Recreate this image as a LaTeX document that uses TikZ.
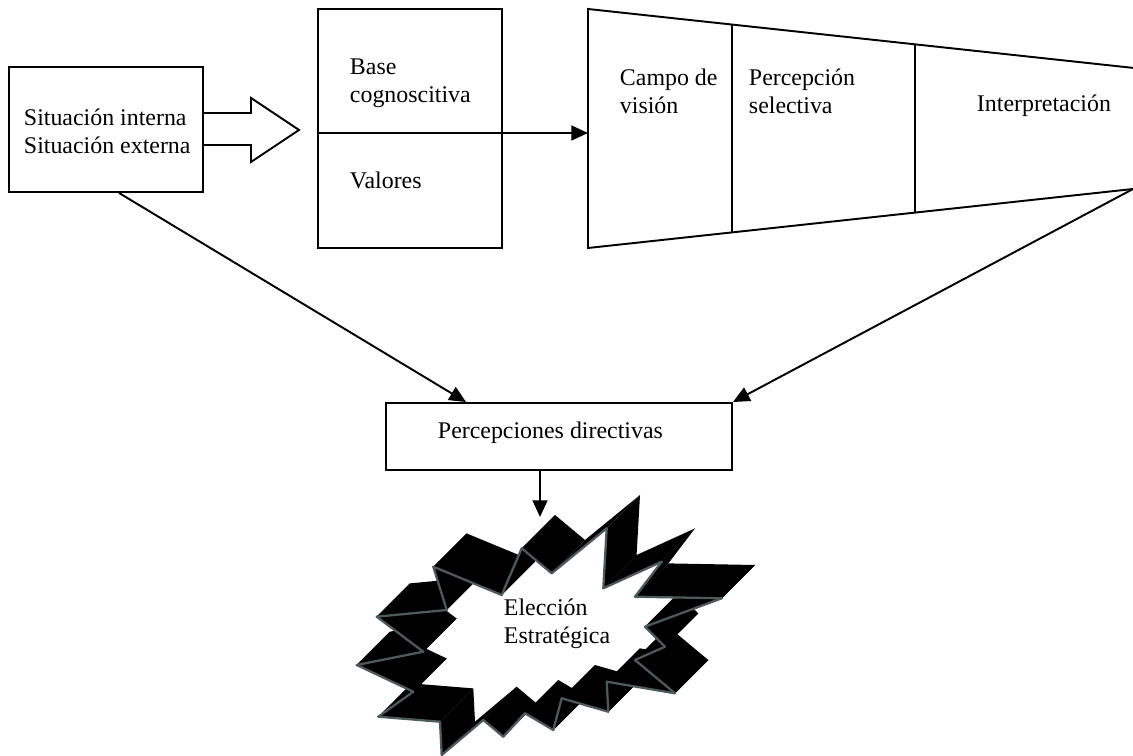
\documentclass[tikz,border=0pt]{standalone}
\usepackage{fontspec}
\setmainfont{Liberation Serif}
\usetikzlibrary{arrows.meta}
\definecolor{grisborde}{RGB}{78,90,90}
\tikzset{
  caja/.style={draw, line width=1.1pt, inner sep=0pt},
  texto/.style={anchor=west, inner sep=0pt, align=left, font=\fontsize{13.6}{16.2}\selectfont},
  flecha/.style={line width=1.1pt, -{Triangle[length=9.5pt,width=8.5pt]}},
  borde/.style={draw=grisborde, line width=1.3pt, line cap=round}
}
% puntos de la explosion (cara frontal)
\def\picos{356.7/665, 423.3/651.7, 376.7/616.7, 446.7/610, 433.3/566.7, 501.7/595,
  521.7/548.3, 551.7/573.3, 606.7/528.3, 603.3/588.3, 661.7/561.7, 635/596.7,
  721.7/598.3, 645/626.7, 665/646.7, 635/660, 675/693.3, 606.7/681.7, 608.3/711.7,
  561.7/698.3, 553.3/730, 525/713.3, 503.3/736.7, 483.3/720, 441.7/755, 440/721.7,
  378.3/716.7, 413.3/691.7}

\begin{document}
\begin{tikzpicture}[x=0.02cm,y=-0.02cm,line width=1.1pt]
\useasboundingbox (0,0) rectangle (1133,756);

\node[caja, minimum width=3.88cm, minimum height=2.5cm] (sit) at (106,129.5) {};
\node[caja, minimum width=3.68cm, minimum height=4.78cm] (base) at (410,128.5) {};
\node[caja, minimum width=6.92cm, minimum height=1.34cm] (perc) at (559,436.5) {};

% flecha gruesa
\draw (203,113) -- (251,113) -- (251,98) -- (299,130) -- (251,162) -- (251,145) -- (203,145);

% trapecio
\coordinate (trapTL) at (588,9);
\coordinate (trapBL) at (588,248);
\coordinate (trapTR) at (1134,68);
\coordinate (trapBR) at (1133,189);
\draw (trapTR) -- (trapTL) -- (trapBL) -- (trapBR);
\draw (732,24.6) -- (732,232.4);
\draw (915,44.4) -- (915,212.6);

\coordinate (div) at (318,133);
\coordinate (trapL) at (588,133);
\draw[flecha] (div) -- (trapL);

\draw[flecha] ([xshift=0.26cm]sit.south) -- ([xshift=1.62cm]perc.north west);
\draw[flecha] (trapBR) -- (perc.north east);
\coordinate (explosion) at (540,517);
\draw[flecha] (perc.south -| explosion) -- (explosion);

% explosion
\foreach \x/\y [remember=\x as \lx (initially 413.3), remember=\y as \ly (initially 691.7)] in \picos
	\fill (\lx,\ly) -- (\x,\y) -- (\x+33.3,\y-33.3) -- (\lx+33.3,\ly-33.3) -- cycle;
\foreach \x/\y [remember=\x as \lx (initially 413.3), remember=\y as \ly (initially 691.7)] in \picos
	\draw[borde] (\lx,\ly) -- (\x,\y);

      \node[texto] (sitTxt) at (23,131.5) {Situación interna\\Situación externa};
      \node[texto] (baseTxt) at (349,83) {Base\\cognoscitiva};
      \node[texto] (valTxt) at (349,180) {Valores};
      \node[texto] (campoTxt) at (619,91.5) {Campo de\\visión};
      \node[texto] (selTxt) at (748,91.5) {Percepción\\selectiva};
      \node[texto] (interpTxt) at (976,106) {Interpretación};
      \node[texto] (percTxt) at (437,433) {Percepciones directivas};
      \node[texto] (eleccionTxt) at (503,624) {Elección\\Estratégica};

\end{tikzpicture}
\end{document}
